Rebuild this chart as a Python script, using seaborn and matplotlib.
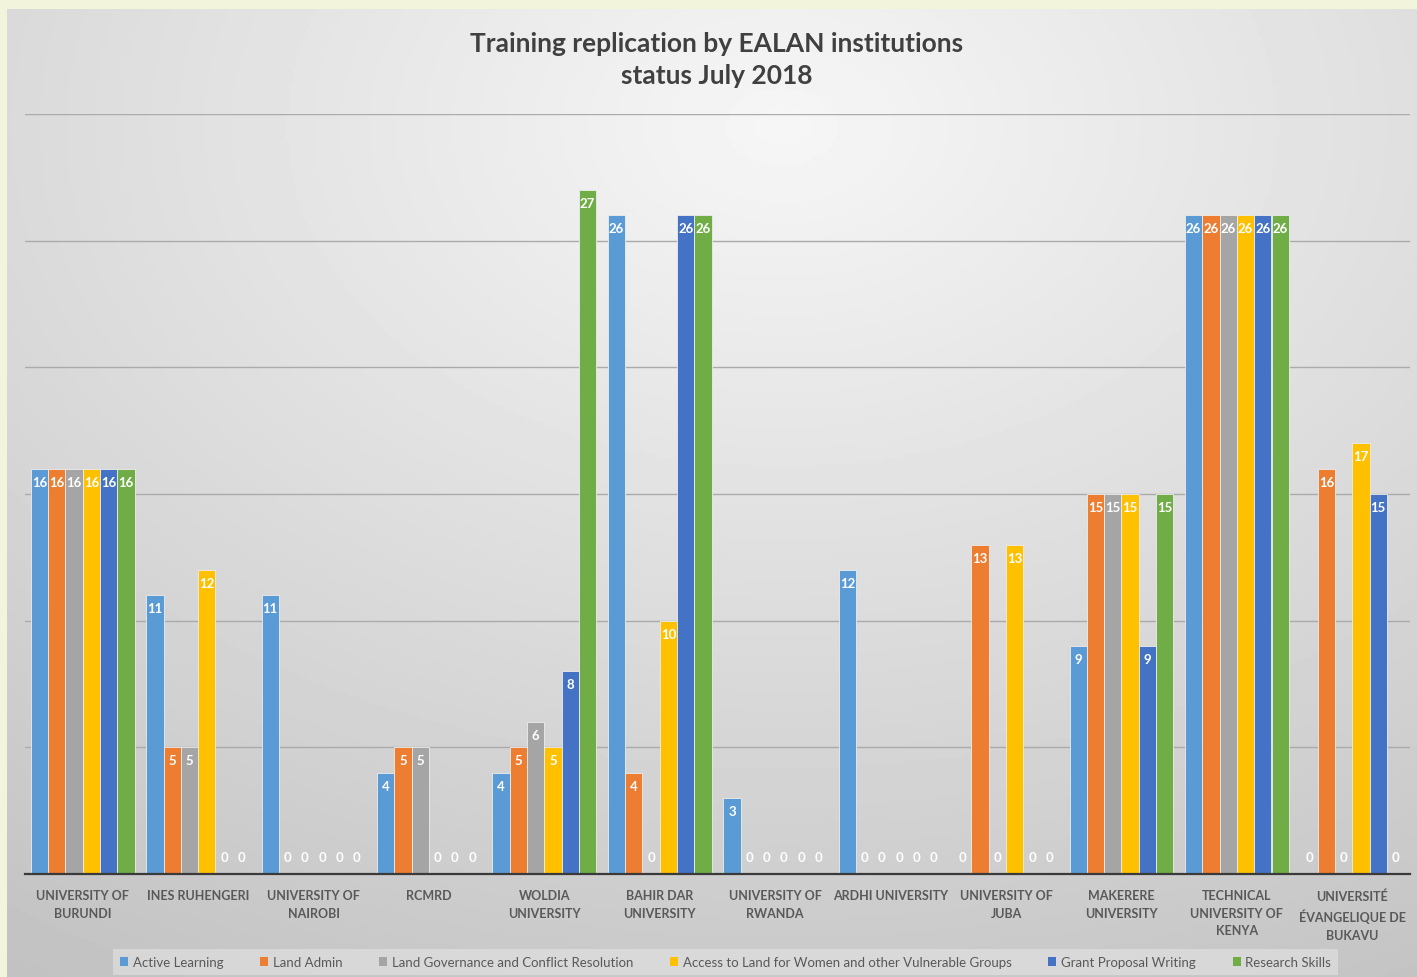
import matplotlib
matplotlib.use("Agg")
import matplotlib.pyplot as plt
import seaborn as sns
import pandas as pd
import numpy as np

# data
institutions = ["UNIVERSITY OF\nBURUNDI", "INES RUHENGERI", "UNIVERSITY OF\nNAIROBI", "RCMRD",
                "WOLDIA\nUNIVERSITY", "BAHIR DAR\nUNIVERSITY", "UNIVERSITY OF\nRWANDA", "ARDHI UNIVERSITY",
                "UNIVERSITY OF\nJUBA", "MAKERERE\nUNIVERSITY", "TECHNICAL\nUNIVERSITY OF\nKENYA",
                "UNIVERSITÉ\nÉVANGELIQUE DE\nBUKAVU"]
courses = ["Active Learning", "Land Admin", "Land Governance and Conflict Resolution",
           "Access to Land for Women and other Vulnerable Groups", "Grant Proposal Writing",
           "Research Skills"]
active_learning = [16, 11, 11, 4, 4, 26, 3, 12, 0, 9, 26, 0]
land_admin = [16, 5, 0, 5, 5, 4, 0, 0, 13, 15, 26, 16]
land_governance = [16, 5, 0, 5, 6, 0, 0, 0, 0, 15, 26, 0]
access_to_land = [16, 12, 0, 0, 5, 10, 0, 0, 13, 15, 26, 17]
grant_proposal = [16, 0, 0, 0, 8, 26, 0, 0, 0, 9, 26, 15]
research_skills = [16, 0, 0, 0, 27, 26, 0, 0, 0, 15, 26, 0]

colors = ["#5B9BD5", "#ED7D31", "#A5A5A5", "#FFC000", "#4472C4", "#70AD47"]

series = [active_learning, land_admin, land_governance, access_to_land, grant_proposal, research_skills]
rows = []
for course, vals in zip(courses, series):
    for inst, v in zip(institutions, vals):
        rows.append({"institution": inst, "course": course, "count": v})
df = pd.DataFrame(rows)

sns.set_theme(style="white")
plt.rcParams['font.family'] = ['Lato', 'DejaVu Sans']

W, H = 1417, 978
fig = plt.figure(figsize=(W / 100, H / 100), dpi=100, facecolor="#F2F5DC")

# gradient background of the chart area
bg = fig.add_axes([7 / W, 0, 1 - 7 / W, 1 - 10 / H])
bg.set_axis_off()
yy, xx = np.mgrid[0:1:300j, 0:1:400j]
r = np.sqrt(((xx - 0.55) / 1.0) ** 2 + ((yy - 0.12) / 1.0) ** 2)
shade = 0.965 - 0.2 * np.clip(r, 0, 1.2)
bg.imshow(shade, cmap="gray", vmin=0, vmax=1, aspect="auto", extent=[0, 1, 1, 0])

ax = fig.add_axes([25 / W, (H - 875) / H, (1410 - 25) / W, (875 - 115) / H])
ax.patch.set_alpha(0)

sns.barplot(data=df, x="institution", y="count", hue="course", palette=colors,
            saturation=1, width=0.9, edgecolor="#EDEDED", linewidth=0.6, ax=ax)

ax.set_ylim(0, 30)
ax.set_xlim(-0.5, len(institutions) - 0.5)
ax.set_yticks([5, 10, 15, 20, 25, 30])
ax.yaxis.grid(True, color="#ABABAB", linewidth=1)
ax.set_axisbelow(True)
ax.tick_params(axis="y", left=False, labelleft=False)
ax.tick_params(axis="x", bottom=False, pad=5)
for s in ["top", "right", "left"]:
    ax.spines[s].set_visible(False)
ax.spines["bottom"].set_color("#3A3A3A")
ax.spines["bottom"].set_linewidth(1.6)
ax.set_xlabel("")
ax.set_ylabel("")
for lab in ax.get_xticklabels():
    lab.set_fontsize(9)
    lab.set_fontweight("bold")
    lab.set_color("#595959")
    lab.set_linespacing(1.55)

# data labels
for cont in ax.containers:
    for bar, v in zip(cont, cont.datavalues):
        x = bar.get_x() + bar.get_width() / 2
        if v > 0:
            ax.annotate(f"{int(v)}", (x, v), xytext=(0, -5), textcoords="offset points",
                        ha="center", va="top", color="white", fontsize=9.5, fontweight="bold")
        else:
            ax.annotate("0", (x, 0), xytext=(0, 8), textcoords="offset points",
                        ha="center", va="bottom", color="white", fontsize=9.5, fontweight="bold")

leg = ax.legend(loc="center", bbox_to_anchor=(0.512, (H - 963) / H), bbox_transform=fig.transFigure,
                ncol=6, frameon=True, fontsize=9.5, handlelength=0.6, handleheight=0.6,
                handletextpad=0.35, columnspacing=2.8, borderpad=0.5)
leg.get_frame().set_facecolor("#E4E4E4")
leg.get_frame().set_alpha(0.6)
leg.get_frame().set_edgecolor("none")
leg.get_frame().set_boxstyle("square", pad=0)
for t in leg.get_texts():
    t.set_color("#595959")
for h in leg.legend_handles:
    h.set_edgecolor("none")

fig.text(0.506, 1 - 60 / H, "Training replication by EALAN institutions\nstatus July 2018",
         ha="center", va="center", fontsize=19, fontweight="bold", color="#404040", linespacing=1.45)

fig.savefig("out.png", dpi=100, facecolor=fig.get_facecolor())
